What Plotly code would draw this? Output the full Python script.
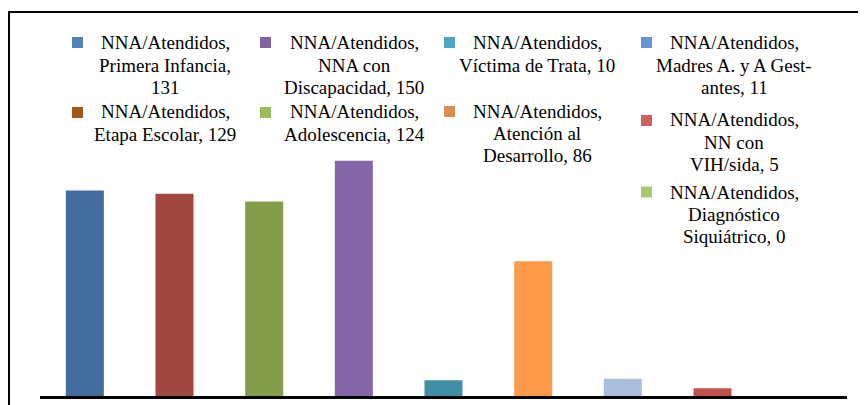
import plotly.graph_objects as go

# ---- data ----
categories = ["Primera Infancia", "Etapa Escolar", "Adolescencia", "NNA con Discapacidad",
              "Víctima de Trata", "Atención al Desarrollo", "Madres A. y A Gestantes",
              "NN con VIH/sida", "Diagnóstico Siquiátrico"]
values = [131, 129, 124, 150, 10, 86, 11, 5, 0]
legend_templates = [
    "NNA/Atendidos,|Primera Infancia,|{v}",
    "NNA/Atendidos,|Etapa Escolar, {v}",
    "NNA/Atendidos,|Adolescencia, {v}",
    "NNA/Atendidos,|NNA con|Discapacidad, {v}",
    "NNA/Atendidos,|Víctima de Trata, {v}",
    "NNA/Atendidos,|Atención al|Desarrollo, {v}",
    "NNA/Atendidos,|Madres A. y A Gest-|antes, {v}",
    "NNA/Atendidos,|NN con|VIH/sida, {v}",
    "NNA/Atendidos,|Diagnóstico|Siquiátrico, {v}",
]
bar_colors = ["#436D9D", "#A0473F", "#839D49", "#8467A6", "#418FA6",
              "#FF9A4A", "#ACBEDE", "#C4504D", "#9BBB59"]
legend_colors = ["#5581B9", "#A5541A", "#9BBB59", "#8064A2", "#4FA5BD",
                 "#DB8E4F", "#6596D3", "#D0605C", "#A9C86F"]

# ---- layout geometry (page pixels; page body has an 8px offset) ----
OFF = 8
W_PAGE, H_PAGE = 866, 405
L, R, T, B = 40, 847, 150, 396
PW, PH = R - L, B - T
PX_PER_UNIT = 1.568
def px(x):
    return (x - L) / PW
def py(y):
    return (B - y) / PH

# legend placement: (square x, square y, text center x, first line y)
legend_pos = [
    (77.5, 42.5, 165, 43),
    (77.5, 112.5, 165, 112),
    (265.5, 112.5, 354, 112),
    (265.5, 42.5, 354, 43),
    (449.5, 42.5, 537, 43),
    (449.5, 111.5, 537, 111),
    (646.5, 42.5, 734, 43),
    (646.5, 120.5, 734, 120),
    (646.5, 192, 734, 192),
]
LINE_H = 22
SQ = 11
FONT = "Liberation Serif"

fig = go.Figure(go.Bar(
    x=categories, y=values, marker=dict(color=bar_colors, line=dict(width=0)),
    showlegend=False, hoverinfo="x+y",
))

annotations = []
shapes = []
for i, tmpl in enumerate(legend_templates):
    sx, sy, tx, ty = legend_pos[i]
    shapes.append(dict(type="rect", xref="paper", yref="paper",
                       x0=px(sx - SQ / 2), x1=px(sx + SQ / 2),
                       y0=py(sy + SQ / 2), y1=py(sy - SQ / 2),
                       fillcolor=legend_colors[i], line=dict(width=0)))
    for k, line in enumerate(tmpl.format(v=values[i]).split("|")):
        annotations.append(dict(xref="paper", yref="paper", x=px(tx), y=py(ty + k * LINE_H),
                                text=line, showarrow=False, xanchor="center", yanchor="middle",
                                font=dict(family=FONT, size=19, color="black")))

# outer frame (cropped at right and bottom)
shapes.append(dict(type="rect", xref="paper", yref="paper",
                   x0=px(9), x1=px(880), y0=py(420), y1=py(12),
                   line=dict(color="black", width=2), fillcolor="rgba(0,0,0,0)"))

W_FIG, H_FIG = W_PAGE - OFF, H_PAGE - OFF
fig.update_layout(
    width=W_FIG, height=H_FIG,
    margin=dict(l=L - OFF, r=W_PAGE - R, t=T - OFF, b=H_PAGE - B, pad=0),
    paper_bgcolor="white", plot_bgcolor="white",
    bargap=0.576,
    xaxis=dict(type="category", showticklabels=False, showgrid=False, zeroline=False,
               showline=True, linecolor="black", linewidth=3, ticks=""),
    yaxis=dict(range=[0, PH / PX_PER_UNIT], visible=False, showgrid=False, zeroline=False),
    annotations=annotations, shapes=shapes,
    font=dict(family=FONT, size=19, color="black"),
)

fig.write_html("out.html")
